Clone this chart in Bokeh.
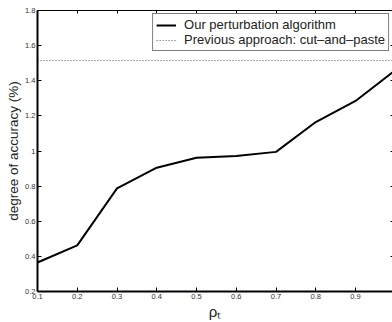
from bokeh.plotting import figure
from bokeh.models import Range1d, LinearAxis, FixedTicker, Legend, LegendItem
from bokeh.embed import file_html
from bokeh.resources import INLINE

rho = [0.1, 0.2, 0.3, 0.4, 0.5, 0.6, 0.7, 0.8, 0.9, 1.0]
ours = [0.365, 0.463, 0.787, 0.905, 0.962, 0.972, 0.995, 1.165, 1.285, 1.46]
previous = [1.515] * len(rho)
x_ticks = [0.1, 0.2, 0.3, 0.4, 0.5, 0.6, 0.7, 0.8, 0.9, 1.0]
y_ticks = [0.2, 0.4, 0.6, 0.8, 1.0, 1.2, 1.4, 1.6, 1.8]
y_labels = {0.2: "0.2", 0.4: "0.4", 0.6: "0.6", 0.8: "0.8", 1.0: "1",
            1.2: "1.2", 1.4: "1.4", 1.6: "1.6", 1.8: "1.8"}
x_labels = {0.1: "0.1", 0.2: "0.2", 0.3: "0.3", 0.4: "0.4", 0.5: "0.5",
            0.6: "0.6", 0.7: "0.7", 0.8: "0.8", 0.9: "0.9", 1.0: "1"}

FONT = "Liberation Sans"

p = figure(width=392, height=322, output_backend="svg", toolbar_location=None,
           x_range=Range1d(0.1, 0.993), y_range=Range1d(0.2, 1.8),
           min_border_left=37, min_border_right=0, min_border_top=10,
           min_border_bottom=31)
p.outline_line_color = None
p.grid.visible = False
p.background_fill_color = "white"
p.border_fill_color = "white"

l1 = p.line(rho, ours, line_color="black", line_width=2)
l2 = p.line(rho, previous, line_color="#555555", line_width=1, line_dash="1 2")

for ax in [p.xaxis[0], p.yaxis[0]]:
    ax.axis_line_width = 2
    ax.axis_line_color = "black"
    ax.major_tick_in = 4
    ax.major_tick_out = 0
    ax.minor_tick_line_color = None
    ax.major_label_text_font = FONT
    ax.major_label_text_font_size = "7.5px"
    ax.major_label_text_color = "#333333"
    ax.major_label_standoff = 2
    ax.axis_label_text_font = FONT
    ax.axis_label_text_font_style = "normal"
    ax.axis_label_text_color = "#222222"

p.xaxis.ticker = FixedTicker(ticks=x_ticks)
p.xaxis.major_label_overrides = x_labels
p.yaxis.ticker = FixedTicker(ticks=y_ticks)
p.yaxis.major_label_overrides = y_labels
p.yaxis.axis_label = "degree of accuracy (%)"
p.yaxis.axis_label_text_font_size = "13.5px"
p.yaxis.axis_label_standoff = 1
p.xaxis.axis_label = "ρₜ"
p.xaxis.axis_label_text_font_size = "15px"
p.xaxis.axis_label_standoff = 1

top = LinearAxis(ticker=FixedTicker(ticks=[], minor_ticks=x_ticks),
                 major_tick_in=0, major_tick_out=0,
                 minor_tick_in=3, minor_tick_out=0, minor_tick_line_color="black",
                 major_label_standoff=0, axis_line_width=1)
p.add_layout(top, "above")
right = LinearAxis(ticker=FixedTicker(ticks=[], minor_ticks=y_ticks),
                   major_tick_in=0, major_tick_out=0,
                   minor_tick_in=2, minor_tick_out=0, minor_tick_line_color="black",
                   major_label_standoff=0, axis_line_color=None)
p.add_layout(right, "right")

legend = Legend(items=[LegendItem(label="Our perturbation algorithm", renderers=[l1]),
                       LegendItem(label="Previous approach: cut–and–paste", renderers=[l2])],
                location="top_right")
legend.margin = 3
legend.padding = 3
legend.spacing = 0
legend.border_line_color = "black"
legend.border_line_width = 1
legend.label_text_font = FONT
legend.label_text_font_size = "13px"
legend.label_text_color = "#222222"
legend.label_standoff = 8
legend.glyph_width = 20
legend.glyph_height = 14
legend.label_height = 14
legend.background_fill_alpha = 1
p.add_layout(legend, "center")

open("out.html", "w").write(file_html(p, INLINE))
